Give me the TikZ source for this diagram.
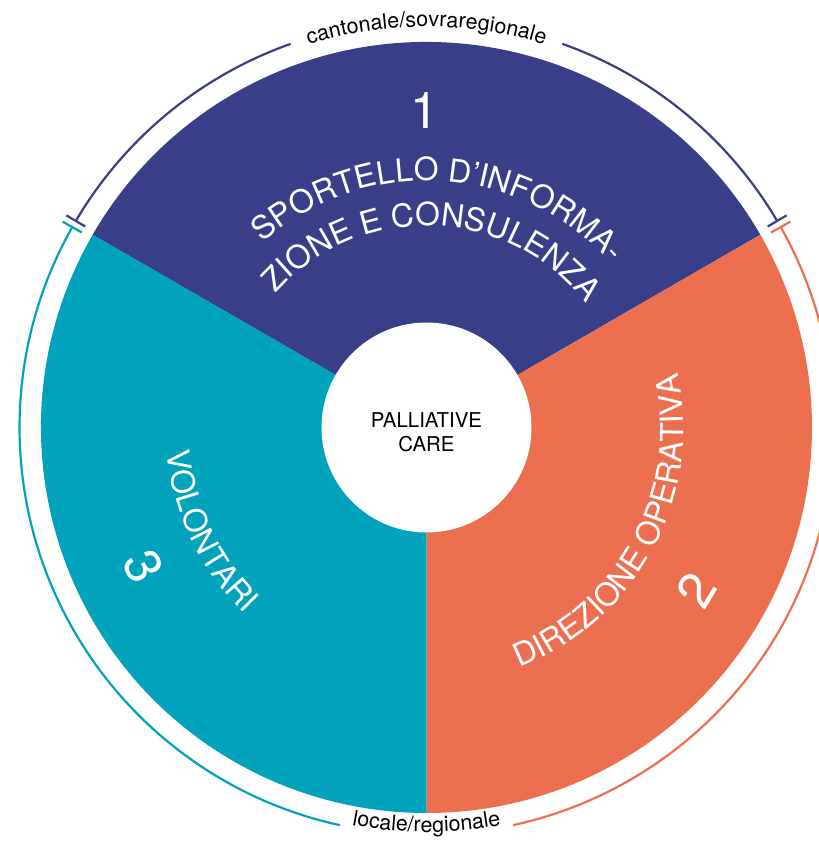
\documentclass[tikz,border=0pt]{standalone}
\usepackage{fontspec}
\setmainfont{TeX Gyre Heros}
\usetikzlibrary{decorations.text}
\definecolor{pcblue}{RGB}{56,62,135}
\definecolor{pcorange}{RGB}{236,112,80}
\definecolor{pcteal}{RGB}{0,162,188}
\newcommand{\secfont}{\fontsize{32}{36}\selectfont\color{white}}
\newcommand{\ringfont}{\fontsize{21.5}{24}\selectfont\color{black}}
\begin{document}
\begin{tikzpicture}[x=1bp,y=1bp,
  ring/.style={line width=2.2bp},
  numlabel/.style={text=white,font=\fontsize{51}{56}\selectfont,inner sep=0pt},
  hublabel/.style={text=black,font=\fontsize{20.5}{24}\selectfont,inner sep=0pt,anchor=base},
  alongarc/.style={decorate,decoration={text along path,text align=center,text={#1}}}]
\useasboundingbox (-426.5,-413.5) rectangle (392.5,427.5);
\clip (-426.5,-413.5) rectangle (392.5,427.5);
% sectors
\fill[pcblue] (0,0) -- (30:385.5) arc[start angle=30,end angle=150,radius=385.5] -- cycle;
\fill[pcorange] (0,0) -- (-90:385.5) arc[start angle=-90,end angle=30,radius=385.5] -- cycle;
\fill[pcteal] (0,0) -- (150:385.5) arc[start angle=150,end angle=270,radius=385.5] -- cycle;
% hub
\node[circle,fill=white,minimum size=210bp,inner sep=0pt] (hub) at (0,0) {};
\node[hublabel] (pal) at (0,0.2) {PALLIATIVE};
\node[hublabel] (care) at (0,-23.5) {CARE};
% numbers
\node[numlabel] (n1) at (-2,317.5) {1};
\node[numlabel,rotate=59] (n2) at (-31:315.3) {2};
\node[numlabel,rotate=-64] (n3) at (206.2:315.6) {3};
% sector texts
\path[alongarc={|\secfont|SPORTELLO D’INFORMA-}] (146.6:247) arc[start angle=146.6,end angle=26.6,radius=247];
\path[alongarc={|\secfont|ZIONE E CONSULENZA}] (148.2:202) arc[start angle=148.2,end angle=28.2,radius=202];
\path[alongarc={|\secfont|DIREZIONE OPERATIVA}] (-88.2:257.5) arc[start angle=-88.2,end angle=31.8,radius=257.5];
\path[alongarc={|\secfont|VOLONTARI}] (145.5:260.5) arc[start angle=145.5,end angle=265.5,radius=260.5];
% outer ring
\draw[ring,pcblue] (30.5:407) arc[start angle=30.5,end angle=70.5,radius=407];
\draw[ring,pcblue] (109.5:407) arc[start angle=109.5,end angle=149.5,radius=407];
\draw[ring,pcteal] (150.5:407) arc[start angle=150.5,end angle=257.7,radius=407];
\draw[ring,pcorange] (282.3:407) arc[start angle=282.3,end angle=389.5,radius=407];
\draw[ring,pcblue] (30.5:396) -- (30.5:418);
\draw[ring,pcblue] (149.5:396) -- (149.5:418);
\draw[ring,pcorange] (29.5:396) -- (29.5:418);
\draw[ring,pcteal] (150.5:396) -- (150.5:418);
% ring labels
\path[alongarc={|\ringfont|cantonale/sovraregionale}] (110:400.8) arc[start angle=110,end angle=70,radius=400.8];
\path[alongarc={|\ringfont|locale/regionale}] (250:404.5) arc[start angle=250,end angle=290,radius=404.5];
\end{tikzpicture}
\end{document}
